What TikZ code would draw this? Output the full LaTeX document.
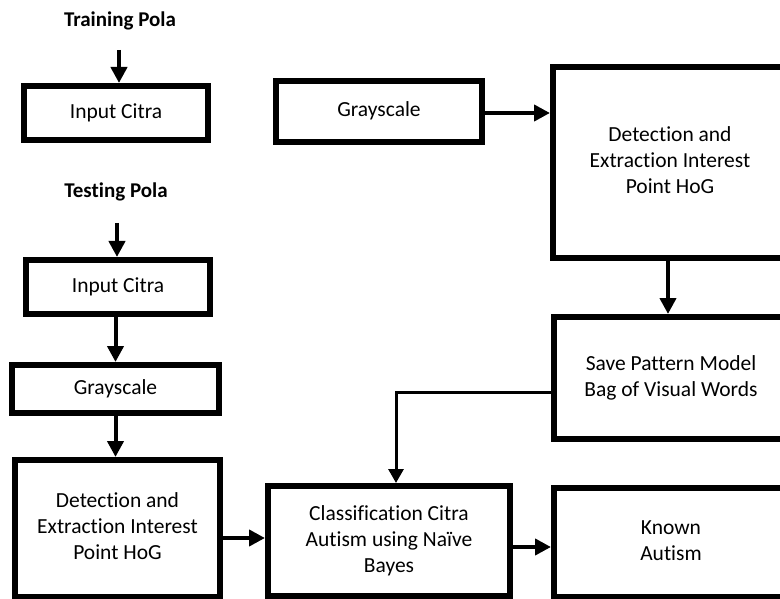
\documentclass[tikz,border=0pt]{standalone}
\usepackage{fontspec}
\setmainfont{Carlito}[Ligatures=NoCommon]
\usetikzlibrary{arrows.meta}
\newcommand\boxtext[2]{\raisebox{#1}{\begin{tabular}{@{}c@{}}#2\end{tabular}}}
\begin{document}
\begin{tikzpicture}[x=1pt,y=-1pt,
  box/.style={draw, line width=6pt, inner sep=0pt, align=center,
    font=\fontsize{21.5}{26}\selectfont},
  title/.style={font=\fontsize{21}{26}\selectfont\bfseries, inner sep=0pt},
  arr/.style={line width=4pt, -{Triangle[length=16pt,width=16pt]}},
  thinarr/.style={line width=3pt, -{Triangle[length=14pt,width=15pt]}}]
\useasboundingbox (0,0) rectangle (780,599);
\clip (0,0) rectangle (780,599);
% left column
\node[title] (train) at (120,21) {Training Pola};
\node[box, minimum width=184pt, minimum height=54pt] (in1) at (116,113) {Input Citra};
\node[title] (test) at (116,192) {Testing Pola};
\node[box, minimum width=184pt, minimum height=54pt] (in2) at (118,287) {Input Citra};
\node[box, minimum width=207pt, minimum height=48pt] (gs2) at (115.5,389) {Grayscale};
\node[box, minimum width=205pt, minimum height=137pt] (hog2) at (117.5,528.5)
  {\boxtext{0pt}{Detection and\\Extraction Interest\\Point HoG}};
\node[box, minimum width=242pt, minimum height=110pt] (class) at (389,541)
  {\boxtext{0pt}{Classification Citra\\Autism using Naïve\\Bayes}};
\node[box, minimum width=234pt, minimum height=109pt] (known) at (671,542.5)
  {\boxtext{0pt}{Known\\Autism}};
% top right
\node[box, minimum width=206pt, minimum height=61pt] (gs1) at (379,111.5)
  {\boxtext{4pt}{Grayscale}};
\node[box, minimum width=234pt, minimum height=191pt] (hog1) at (670,162.5)
  {\boxtext{10pt}{Detection and\\Extraction Interest\\Point HoG}};
\node[box, minimum width=234pt, minimum height=122pt] (save) at (671,378)
  {\boxtext{5pt}{Save Pattern Model\\Bag of Visual Words}};
% helper coordinates
\coordinate (t1) at (119,50);
\coordinate (t2) at (117,223);
\coordinate (ya) at (0,538);
\coordinate (yb) at (0,547);
\coordinate (yc) at (0,113);
\coordinate (xd) at (668,0);
\coordinate (bend) at (396,392);
% connectors
\draw[arr] (t1) -- (t1 |- in1.north);
\draw[arr] (t2) -- (t2 |- in2.north);
\draw[arr] (in2.south -| gs2.north) -- (gs2.north);
\draw[arr] (gs2.south) -- (gs2.south |- hog2.north);
\draw[arr] (hog2.east |- ya) -- (class.west |- ya);
\draw[arr] (class.east |- yb) -- (known.west |- yb);
\draw[arr] (gs1.east |- yc) -- (hog1.west |- yc);
\draw[arr] (xd |- hog1.south) -- (xd |- save.north);
\draw[thinarr] (save.west |- bend) -- (bend) -- (bend |- class.north);
\end{tikzpicture}
\end{document}
